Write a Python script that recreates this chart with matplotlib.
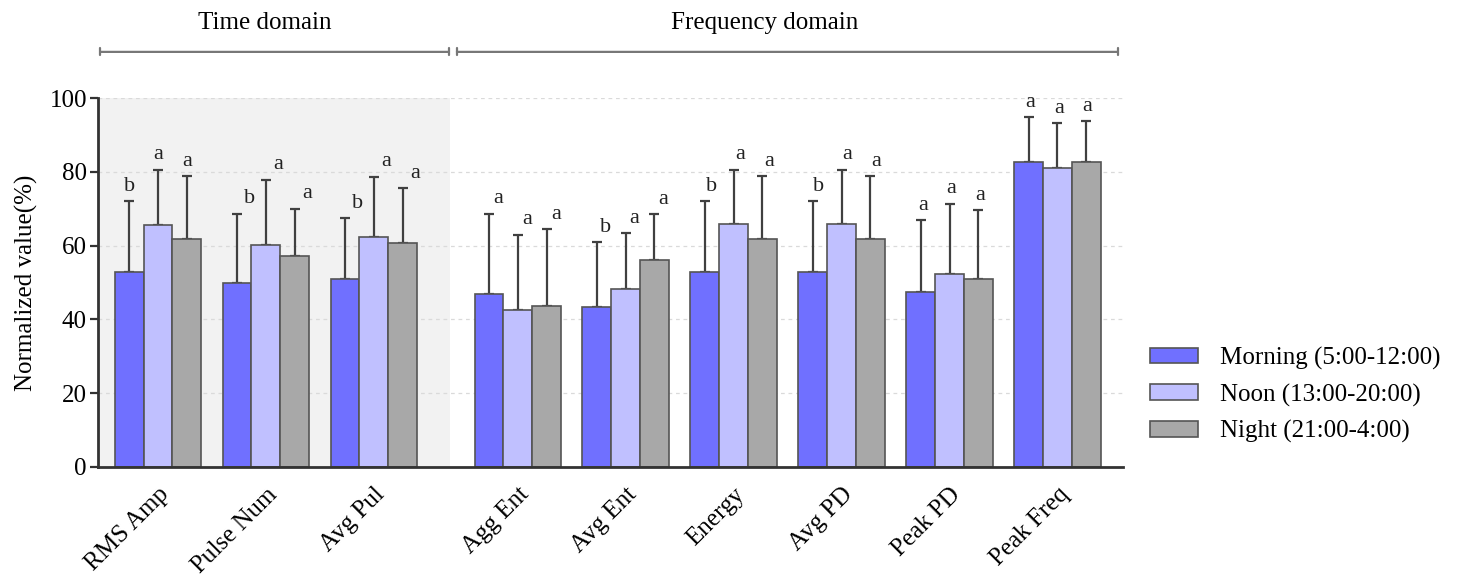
import numpy as np
import matplotlib
matplotlib.use("Agg")
import matplotlib.pyplot as plt
from matplotlib.patches import Patch

plt.rcParams['font.family'] = ['Liberation Serif', 'DejaVu Serif']

categories = ["RMS Amp", "Pulse Num", "Avg Pul", "Agg Ent", "Avg Ent",
              "Energy", "Avg PD", "Peak PD", "Peak Freq"]
series_names = ["Morning (5:00-12:00)", "Noon (13:00-20:00)", "Night (21:00-4:00)"]

morning = [52.8, 49.9, 50.9, 46.8, 43.3, 52.8, 52.8, 47.4, 82.6]
noon    = [65.7, 60.3, 62.3, 42.6, 48.3, 65.8, 65.8, 52.4, 81.2]
night   = [61.9, 57.2, 60.7, 43.7, 56.0, 61.9, 61.9, 50.9, 82.7]

morning_err_top = [72.1, 68.6, 67.4, 68.7, 60.9, 72.1, 72.1, 66.9, 94.9]
noon_err_top    = [80.6, 77.9, 78.7, 62.9, 63.4, 80.6, 80.6, 71.4, 93.2]
night_err_top   = [78.8, 70.0, 75.6, 64.4, 68.5, 78.8, 78.8, 69.6, 93.8]

letters_morning = ["b", "b", "b", "a", "b", "b", "b", "a", "a"]
letters_noon    = ["a", "a", "a", "a", "a", "a", "a", "a", "a"]
letters_night   = ["a", "a", "a", "a", "a", "a", "a", "a", "a"]

domains = ["Time domain", "Frequency domain"]
n_time = 3

# style
colors = ["#7070FF", "#C0C0FF", "#A8A8A8"]
edge = "#555555"
letter_dx_pt = [0, 9, 9, 7, 6, 5, 4, 1.5, 1]

fig = plt.figure(figsize=(14.59, 5.82), dpi=100)
ax = fig.add_axes([98/1459, 1-466.7/582, (1123-98)/1459, (466.7-98.3)/582])

group_gap = 1.333
x = np.array([i if i < n_time else i + (group_gap - 1) for i in range(len(categories))], float)
width = 0.2667

values = [morning, noon, night]
tops = [morning_err_top, noon_err_top, night_err_top]
letters = [letters_morning, letters_noon, letters_night]

ax.set_xlim(-0.555, 8.94)
ax.set_ylim(0, 100)

# shaded time-domain region
ax.axvspan(-0.555, 2.71, color="#F2F2F2", zorder=0, lw=0)

for yv in [20, 40, 60, 80, 100]:
    ax.axhline(yv, color="#DADADA", lw=0.9, ls=(0, (3, 3)), zorder=0.5)

for k in range(3):
    xs = x + (k - 1) * width
    v = np.array(values[k])
    t = np.array(tops[k])
    ax.bar(xs, v, width=width, color=colors[k], edgecolor=edge, linewidth=1.2,
           zorder=2, label=series_names[k])
    ax.errorbar(xs, v, yerr=[np.zeros_like(v), t - v], fmt="none",
                ecolor="#404040", elinewidth=1.6, capsize=3.5, capthick=1.6, zorder=1.5)
    for i in range(len(xs)):
        ax.annotate(letters[k][i], xy=(xs[i], t[i]), xytext=(letter_dx_pt[i], 4),
                    textcoords="offset points", ha="center", va="bottom",
                    fontsize=16, color="#222222", zorder=3)

ax.set_xticks(x)
ax.set_xticklabels(categories, rotation=45, ha="right", rotation_mode="anchor",
                   fontsize=18)
ax.tick_params(axis="x", length=0, pad=12)
ax.set_yticks([0, 20, 40, 60, 80, 100])
ax.tick_params(axis="y", labelsize=18, length=6, width=1.6, color="#333333", pad=2)
ax.set_ylabel("Normalized value(%)", fontsize=18, labelpad=8)

for s in ["top", "right"]:
    ax.spines[s].set_visible(False)
for s in ["left", "bottom"]:
    ax.spines[s].set_linewidth(2)
    ax.spines[s].set_color("#333333")

# domain brackets
br_y = 112.6
txt_y = 120.5
spans = [(-0.535, 2.696), (2.77, 8.89)]
txt_x = [0.99, 5.62]
for (a, b), name, tx in zip(spans, domains, txt_x):
    ax.annotate("", xy=(b, br_y), xytext=(a, br_y), xycoords="data",
                arrowprops=dict(arrowstyle="|-|, widthA=0.25, widthB=0.25",
                                color="#777777", lw=1.6, shrinkA=0, shrinkB=0),
                annotation_clip=False)
    ax.text(tx, txt_y, name, ha="center", va="center", fontsize=18,
            clip_on=False)

handles = [Patch(facecolor=colors[k], edgecolor=edge, linewidth=1.2) for k in range(3)]
fig.legend(handles, series_names, loc="center left",
           bbox_to_anchor=(1150/1459, 1-395/582), frameon=False, fontsize=18,
           handlelength=1.9, handleheight=0.6, handletextpad=0.9,
           labelspacing=0.55, borderpad=0, borderaxespad=0)

fig.savefig("out.png", dpi=100)
